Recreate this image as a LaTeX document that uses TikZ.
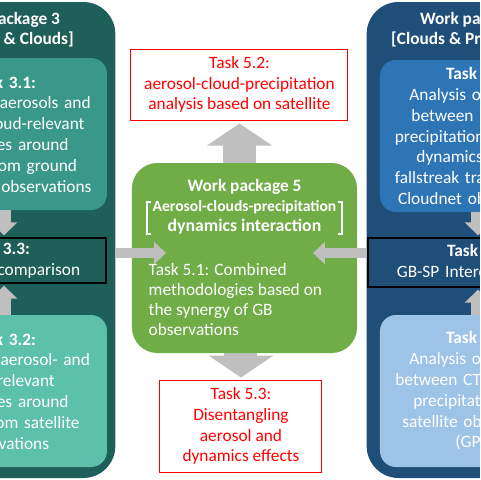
\documentclass[tikz,border=0pt]{standalone}
\usepackage{fontspec}
\setmainfont{Carlito}
\usetikzlibrary{arrows.meta,backgrounds}

\definecolor{wpteal}{RGB}{31,95,89}
\definecolor{taskteal}{RGB}{58,152,138}
\definecolor{taskmint}{RGB}{92,192,170}
\definecolor{wpnavy}{RGB}{31,78,121}
\definecolor{taskblue}{RGB}{46,117,182}
\definecolor{tasksky}{RGB}{157,195,230}
\definecolor{wpgreen}{RGB}{112,173,71}
\definecolor{arrowgray}{RGB}{191,191,191}

\begin{document}
\begin{tikzpicture}[
    x=0.75pt, y=-0.75pt,
    font=\fontsize{13}{15.6}\selectfont,
    wpbox/.style={rectangle, rounded corners=24pt, minimum width=167pt, minimum height=357pt},
    wptitle/.style={text=white, align=center, font=\bfseries\fontsize{13}{15}\selectfont},
    taskbox/.style={rectangle, rounded corners=12pt, minimum width=#1, minimum height=114pt, text width=#1-4pt, align=center, text=white, inner sep=0pt},
    interbox/.style={rectangle, draw=black, line width=1pt, minimum width=#1, text width=#1-4pt, align=center, text=white, inner sep=0pt},
    redbox/.style={rectangle, draw=red, line width=0.75pt, fill=white, text=red, align=center, inner sep=0pt},
    hArrow/.style={arrowgray, line width=7.5pt, -{Triangle[length=9pt, width=16.5pt]}},
    vArrow/.style={arrowgray, line width=10.5pt, -{Triangle[length=9.75pt, width=19.5pt]}},
    bigArrow/.style={arrowgray, line width=24.75pt, -{Triangle[length=16.5pt, width=48pt]}}
]
    \path[use as bounding box, clip] (0,0) rectangle (480,480);

    % Work package 3
    \node[wpbox, fill=wpteal] (wp3) at (4,240) {};
    \node[wptitle] (wp3title) at (3,30) {Work package 3\\{[}Aerosols \& Clouds{]}};
    \node[taskbox=154.5pt, fill=taskteal] (t31) at (4,134) {\textbf{Task 3.1:}\\Analysis of aerosols and\\of their cloud-relevant\\properties around\\Europe from ground\\based lidar observations};
    \node[interbox=162pt, fill=wpteal, minimum height=33.75pt] (t33) at (-2,260.5) {\textbf{Task 3.3:}\\GB-SP Intercomparison};
    \node[taskbox=154.5pt, fill=taskmint] (t32) at (4,391) {\textbf{Task 3.2:}\\Analysis of aerosol- and\\cloud-relevant\\properties around\\Europe from satellite\\observations};

    % Work package 4
    \node[wpbox, fill=wpnavy] (wp4) at (478,240) {};
    \node[wptitle] (wp4title) at (477,30) {Work package 4\\{[}Clouds \& Precipitation{]}};
    \node[taskbox=147pt, fill=taskblue] (t41) at (478,136) {\textbf{Task 4.1:}\\Analysis of relation\\between\hspace{16pt}clouds,\\precipitation and cloud\\dynamics\hspace{17pt}from\\fallstreak tracking from\\Cloudnet observations};
    \node[interbox=166.5pt, fill=wpnavy, minimum height=36.75pt] (t43) at (479,262.5) {\textbf{Task 4.3:}\\GB-SP Intercomparison};
    \node[taskbox=147pt, fill=tasksky] (t42) at (478,391) {\textbf{Task 4.2:}\\Analysis of relation\\between CTH, CTT and\\precipitation from\\satellite observations\\(GPM)};

    % Work package 5
    \node[rectangle, rounded corners=19pt, fill=wpgreen, minimum width=168.75pt, minimum height=142.5pt] (wp5) at (244.5,258) {};
    \node[wptitle] (wp5title) at (244.5,207) {Work package 5\\{\fontsize{11.7}{15}\selectfont Aerosol-clouds-precipitation}\\{\fontsize{13.3}{15}\selectfont dynamics interaction}};
    \draw[white, line width=1pt] (151,202) -- (147,202) -- (147,234) -- (151,234);
    \draw[white, line width=1pt] (338,202) -- (342,202) -- (342,234) -- (338,234);
    \node[text=white, align=left, anchor=west, font=\fontsize{13}{15}\selectfont] (t51) at (144,300) {Task 5.1: Combined\\methodologies based on\\the synergy of GB\\observations};

    % Tasks 5.2 and 5.3
    \node[redbox, minimum width=162.75pt, minimum height=53.25pt] (t52) at (239.5,84.5) {Task 5.2:\\aerosol-cloud-precipitation\\analysis based on satellite};
    \node[redbox, minimum width=121.5pt, minimum height=69pt] (t53) at (241,426) {Task 5.3:\\Disentangling\\aerosol and\\dynamics effects};

    % Arrows
    \begin{scope}[on background layer]
        \draw[bigArrow, shorten >=2.25pt] (wp5.center -| t52.south) -- (t52.south);
        \draw[bigArrow, shorten >=1.5pt] (wp5.center -| t53.north) -- (t53.north);
    \end{scope}
    \draw[vArrow, shorten >=1.5pt] (t31.south) -- (t33.north -| t31.south);
    \draw[vArrow, shorten >=1.5pt] (t32.north) -- (t33.south -| t32.north);
    \draw[vArrow, shorten >=1.5pt] (t41.south) -- (t43.north -| t41.south);
    \draw[vArrow, shorten >=1.5pt] (t42.north) -- (t43.south -| t42.north);
    \coordinate (inL) at (166,253);
    \coordinate (inR) at (313,253);
    \draw[hArrow] (wp3.east |- inL) -- (inL);
    \draw[hArrow] (wp4.west |- inR) -- (inR);
\end{tikzpicture}
\end{document}
